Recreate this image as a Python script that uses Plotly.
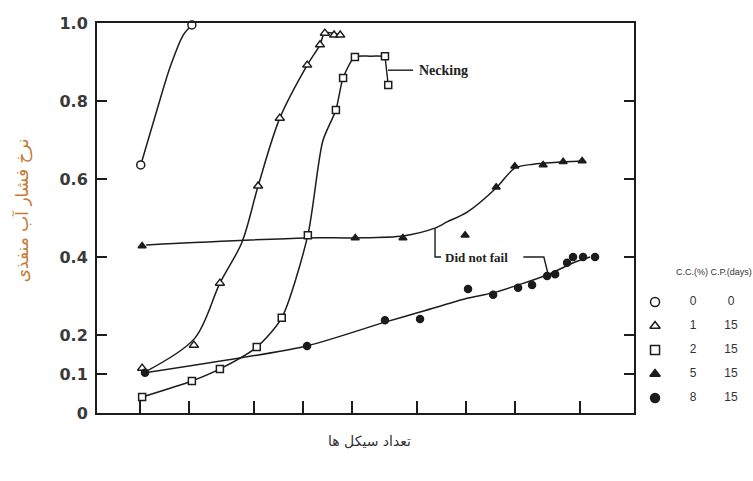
import plotly.graph_objects as go
import math

# ---------------- data (cycles on log x-axis, pore pressure ratio on y) ----------------
cc_pct = [0, 1, 2, 5, 8]
cp_days = [0, 15, 15, 15, 15]

# C.C. 0 %
s0_x = [1.01, 2.08]
s0_y = [0.636, 0.995]
s0_cx = [1.01, 1.27, 1.53, 1.84, 2.08]
s0_cy = [0.636, 0.777, 0.887, 0.969, 0.995]

# C.C. 1 %
s1_x = [1.03, 2.14, 3.09, 5.3, 7.2, 10.6, 12.7, 13.6, 15.5, 16.9]
s1_y = [0.115, 0.174, 0.333, 0.582, 0.756, 0.892, 0.944, 0.974, 0.969, 0.969]
s1_cx = [1.07, 2.17, 3.09, 4.22, 5.3, 7.2, 10.6, 12.7, 13.6, 16.9]
s1_cy = [0.105, 0.192, 0.333, 0.438, 0.582, 0.756, 0.892, 0.944, 0.974, 0.969]

# C.C. 2 %
s2_x = [1.03, 2.08, 3.09, 5.2, 7.4, 10.7, 15.9, 17.6, 20.8, 31.8, 33.3]
s2_y = [0.041, 0.082, 0.113, 0.169, 0.244, 0.456, 0.777, 0.859, 0.913, 0.915, 0.841]
s2_cx = [1.03, 2.08, 3.09, 5.2, 7.4, 10.7, 13.2, 15.9, 17.6, 20.8, 26.0, 31.8]
s2_cy = [0.041, 0.082, 0.113, 0.169, 0.244, 0.456, 0.697, 0.777, 0.859, 0.913, 0.915, 0.915]
neck_x = [31.8, 33.3]
neck_y = [0.915, 0.841]

# C.C. 5 %
s3_x = [1.03, 20.9, 41.0, 98.6, 153, 199, 297, 394, 515]
s3_y = [0.428, 0.449, 0.449, 0.456, 0.579, 0.633, 0.636, 0.644, 0.646]
s3_cx = [1.09, 10.4, 20.9, 41.0, 64.3, 76.5, 101.5, 153, 199, 259, 515]
s3_cy = [0.431, 0.449, 0.449, 0.454, 0.474, 0.490, 0.515, 0.577, 0.628, 0.638, 0.646]

# C.C. 8 %
s4_x = [1.073, 10.58, 31.8, 52.2, 102.8, 146.5, 208.5, 254, 314, 351.7, 416.5, 453, 522, 618]
s4_y = [0.103, 0.172, 0.238, 0.241, 0.318, 0.303, 0.321, 0.328, 0.351, 0.356, 0.385, 0.400, 0.400, 0.400]
s4_cx = [1.073, 10.58, 31.8, 52.2, 102.8, 146.5, 314, 466, 576]
s4_cy = [0.103, 0.172, 0.233, 0.259, 0.295, 0.308, 0.354, 0.387, 0.400]

# annotation leaders
necking_lx = [33.2, 47.3]
necking_ly = [0.879, 0.879]
dnf_left_x = [64.5, 64.5, 70.2]
dnf_left_y = [0.474, 0.400, 0.400]
dnf_right_x = [224.5, 300, 317]
dnf_right_y = [0.400, 0.400, 0.359]

y_tickvals = [0, 0.1, 0.2, 0.4, 0.6, 0.8, 1.0]
y_ticktext = ["0", "0.1", "0.2", "0.4", "0.6", "0.8", "1.0"]
x_tickvals = [1, 2, 5, 10, 20, 50, 100, 200, 500]

INK = "#1c1c1c"
LW = 1.5

fig = go.Figure()

def curve(x, y, smooth=0.9):
    fig.add_trace(go.Scatter(x=x, y=y, mode="lines", line=dict(color=INK, width=LW, shape="spline", smoothing=smooth),
                             hoverinfo="skip", showlegend=False, cliponaxis=False))

def line(x, y):
    fig.add_trace(go.Scatter(x=x, y=y, mode="lines", line=dict(color=INK, width=1.4),
                             hoverinfo="skip", showlegend=False, cliponaxis=False))

def marks(x, y, symbol, hollow, size, xaxis="x", yaxis="y"):
    fig.add_trace(go.Scatter(x=x, y=y, mode="markers", xaxis=xaxis, yaxis=yaxis,
                             marker=dict(symbol=symbol, size=size, color="white" if hollow else INK,
                                         line=dict(color=INK, width=1.5)),
                             showlegend=False, cliponaxis=False))

curve(s0_cx, s0_cy)
curve(s1_cx, s1_cy)
curve(s2_cx, s2_cy, 0.7)
line(neck_x, neck_y)
curve(s3_cx, s3_cy, 0.8)
curve(s4_cx, s4_cy, 0.6)
line(necking_lx, necking_ly)
line(dnf_left_x, dnf_left_y)
line(dnf_right_x, dnf_right_y)

marks(s0_x, s0_y, "circle", True, 8)
marks(s1_x, s1_y, "triangle-up", True, 8)
marks(s2_x, s2_y, "square", True, 7)
marks(s3_x, s3_y, "triangle-up", False, 7)
marks(s4_x, s4_y, "circle", False, 7)

# ---------------- legend table (second axis pair) ----------------
legend_symbols = ["circle", "triangle-up", "square", "triangle-up", "circle"]
legend_hollow = [True, True, True, False, False]
rows = list(range(len(cc_pct)))
for r, sym, hol in zip(rows, legend_symbols, legend_hollow):
    marks([0], [r], sym, hol, 9, "x2", "y2")
fig.add_trace(go.Scatter(x=[1] * len(rows), y=rows, xaxis="x2", yaxis="y2", mode="text",
                         text=[str(v) for v in cc_pct], textfont=dict(family="Liberation Sans", size=12, color="#333"),
                         showlegend=False, cliponaxis=False))
fig.add_trace(go.Scatter(x=[2] * len(rows), y=rows, xaxis="x2", yaxis="y2", mode="text",
                         text=[str(v) for v in cp_days], textfont=dict(family="Liberation Sans", size=12, color="#333"),
                         showlegend=False, cliponaxis=False))

annotations = [
    dict(x=1.55, y=-1.25, xref="x2", yref="y2", text="C.C.(%) C.P.(days)", showarrow=False,
         font=dict(family="Liberation Sans", size=9, color="#333")),
    dict(x=math.log10(50.0), y=0.879, xref="x", yref="y", text="<b>Necking</b>", showarrow=False,
         xanchor="left", font=dict(family="Liberation Serif", size=14, color="#222")),
    dict(x=math.log10(72.2), y=0.400, xref="x", yref="y", text="<b>Did not fail</b>", showarrow=False,
         xanchor="left", font=dict(family="Liberation Serif", size=13, color="#222")),
    dict(x=0.416, y=-0.072, xref="paper", yref="paper", text="تعداد سیکل ها", showarrow=False,
         xanchor="center", yanchor="middle",
         font=dict(family="DejaVu Sans", size=14, color="#333")),
    dict(x=-0.1143, y=0.52, xref="paper", yref="paper", text="نرخ فشار آب منفذی", showarrow=False,
         xanchor="center", yanchor="middle",
         textangle=-90, font=dict(family="DejaVu Sans", size=17, color="#c47a35")),
]

fig.update_layout(
    width=753, height=481,
    margin=dict(l=97, r=0, t=23, b=68),
    paper_bgcolor="white", plot_bgcolor="white",
    showlegend=False,
    xaxis=dict(type="log", domain=[0, 0.8186], range=[-0.264, 3.030],
               tickvals=x_tickvals, showticklabels=False, ticks="inside", ticklen=12, tickwidth=1.5,
               tickcolor=INK, showline=True, linecolor=INK, linewidth=2, mirror=True,
               showgrid=False, zeroline=False),
    yaxis=dict(range=[0, 1], tickvals=y_tickvals, ticktext=y_ticktext, ticks="inside", ticklen=10,
               tickwidth=1.5, tickcolor=INK, showline=True, linecolor=INK, linewidth=2, mirror="ticks",
               showgrid=False, zeroline=False, ticklabelstandoff=4,
               tickfont=dict(family="DejaVu Sans", size=16, color="#3a3a3a", weight="bold")),
    xaxis2=dict(domain=[0.84, 1.0], range=[-0.184, 2.579], anchor="y2", visible=False),
    yaxis2=dict(domain=[0, 1], range=[4.625, -11.625], anchor="x2", visible=False),
    annotations=annotations,
)

fig.write_html("out.html")
